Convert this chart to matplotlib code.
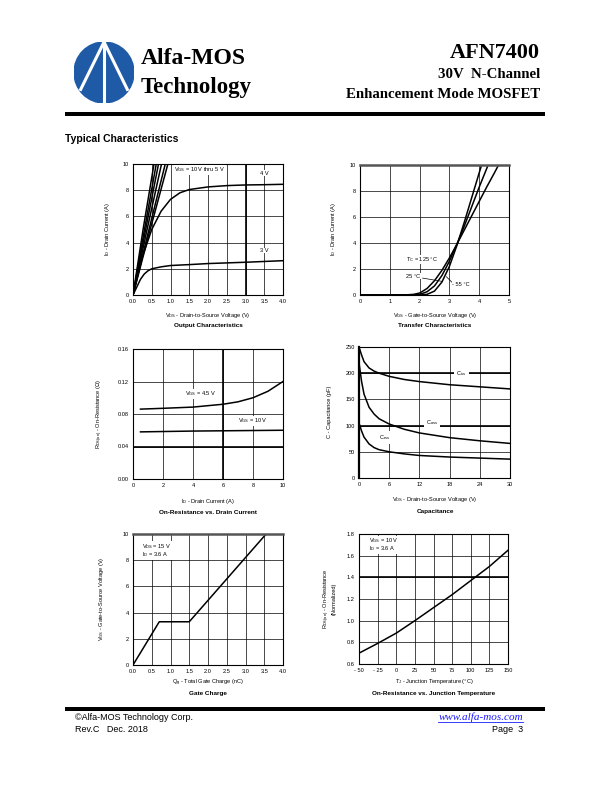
import matplotlib
matplotlib.use("Agg")
import matplotlib.pyplot as plt
from matplotlib.patches import Rectangle, Circle
from matplotlib.lines import Line2D

plt.rcParams['font.family'] = ['Liberation Sans', 'DejaVu Sans']
plt.rcParams['mathtext.fontset'] = 'custom'
plt.rcParams['mathtext.rm'] = 'Liberation Sans'
plt.rcParams['mathtext.it'] = 'Liberation Sans'

# Output Characteristics (VGS = 10 V ... 5 V, 4 V, 3 V)
out_vgs_hi_x = [[0, 0.28, 0.56], [0, 0.3, 0.62], [0, 0.33, 0.68],
                [0, 0.36, 0.76], [0, 0.4, 0.86], [0, 0.44, 0.93]]
out_vgs_hi_y = [[0, 5.2, 10], [0, 4.9, 10], [0, 4.9, 10],
                [0, 4.8, 10], [0, 4.7, 10], [0, 4.8, 10]]
out_4v_x = [0, 0.1, 0.25, 0.5, 0.75, 1.0, 1.25, 1.5, 2.0, 2.5, 3.0, 3.5, 4.0]
out_4v_y = [0, 1.2, 2.9, 5.0, 6.4, 7.3, 7.8, 8.05, 8.25, 8.35, 8.4, 8.42, 8.45]
out_3v_x = [0, 0.1, 0.2, 0.3, 0.4, 0.5, 0.75, 1.0, 1.5, 2.0, 3.0, 4.0]
out_3v_y = [0, 0.6, 1.2, 1.6, 1.85, 2.0, 2.15, 2.25, 2.32, 2.4, 2.5, 2.62]

# Transfer Characteristics
tr_125_x = [0, 1.5, 1.8, 2.0, 2.25, 2.5, 2.75, 3.0, 3.25, 3.5, 3.75, 4.0, 4.25, 4.5, 4.65]
tr_125_y = [0, 0, 0.05, 0.15, 0.5, 1.1, 1.9, 2.85, 3.9, 5.0, 6.1, 7.2, 8.3, 9.35, 10]
tr_25_x = [0, 1.8, 2.0, 2.25, 2.5, 2.75, 3.0, 3.25, 3.5, 3.75, 4.0, 4.3]
tr_25_y = [0, 0, 0.05, 0.25, 0.7, 1.5, 2.6, 3.9, 5.3, 6.8, 8.3, 10]
tr_m55_x = [0, 2.0, 2.25, 2.5, 2.75, 3.0, 3.25, 3.5, 3.75, 4.0, 4.08]
tr_m55_y = [0, 0, 0.05, 0.3, 1.0, 2.2, 3.8, 5.6, 7.5, 9.4, 10]

# On-Resistance vs. Drain Current
ron_id = [0.5, 2, 4, 6, 7, 8, 9, 10]
ron_45v = [0.086, 0.087, 0.0885, 0.092, 0.095, 0.1, 0.108, 0.12]
ron_10v_id = [0.5, 4, 10]
ron_10v = [0.058, 0.059, 0.060]

# Capacitance
cap_vds = [0, 0.5, 1, 2, 3, 4, 6, 9, 12, 18, 24, 30]
cap_ciss = [250, 235, 222, 210, 204, 200, 194, 188, 184, 178, 174, 170]
cap_coss = [220, 185, 160, 135, 122, 113, 103, 93, 86, 77, 71, 66]
cap_crss = [105, 90, 78, 65, 58, 54, 50, 46, 43, 40, 38, 36]

# Gate Charge
qg = [0, 0.7, 1.5, 3.55]
vgs_qg = [0, 3.3, 3.3, 10]

# On-Resistance vs. Junction Temperature
tj = [-50, -25, 0, 25, 50, 75, 100, 125, 150]
ron_norm = [0.70, 0.79, 0.885, 1.0, 1.12, 1.24, 1.37, 1.5, 1.65]

W, H = 612, 792
fig = plt.figure(figsize=(W / 100, H / 100), dpi=100)

def px_axes(x0, y0, x1, y1):
    return fig.add_axes([x0 / W, 1 - y1 / H, (x1 - x0) / W, (y1 - y0) / H])

def ftext(x, y, s, **kw):
    fig.text(x / W, 1 - y / H, s, **kw)

def regla(y, x0=65, x1=545, grosor=4):
    fig.add_artist(Rectangle((x0 / W, 1 - (y + grosor / 2) / H), (x1 - x0) / W, grosor / H,
                             transform=fig.transFigure, color='black', lw=0))

FS = 4.1
FT = 4.6
CURVA = 1.1
caja = dict(facecolor='white', edgecolor='none', pad=0.3)

def preparar(ax, xlim, ylim, xticks, yticks, xtl=None, ytl=None, gruesas_x=(), gruesas_y=()):
    ax.set_xlim(*xlim); ax.set_ylim(*ylim)
    ax.set_xticks(xticks); ax.set_yticks(yticks)
    if xtl is not None:
        ax.set_xticklabels(xtl)
    if ytl is not None:
        ax.set_yticklabels(ytl)
    ax.tick_params(length=0, labelsize=FS, pad=3)
    ax.grid(True, color='black', lw=0.5)
    ax.set_axisbelow(True)
    for s in ax.spines.values():
        s.set_linewidth(0.8)
    for gx in gruesas_x:
        ax.axvline(gx, color='black', lw=1.2, zorder=1)
    for gy in gruesas_y:
        ax.axhline(gy, color='black', lw=1.2, zorder=1)

# ---------------- encabezado ----------------
logo = px_axes(74, 42, 134, 103)
logo.set_xlim(-1, 1); logo.set_ylim(-1, 1); logo.axis('off')
logo.add_patch(Circle((0, 0), 1, color='#1f5aa6'))
for xe, ye in [(-0.8, -0.6), (0.8, -0.6), (0, -1)]:
    logo.plot([0, xe], [1, ye], color='white', lw=2.2, solid_capstyle='butt')

ftext(141, 59, "Alfa-MOS", family='Liberation Serif', weight='bold', fontsize=17, va='center')
ftext(141, 87, "Technology", family='Liberation Serif', weight='bold', fontsize=16.5, va='center')
ftext(540, 53, "AFN7400", family='Liberation Serif', weight='bold', fontsize=16, va='center', ha='right')
ftext(540, 75, "30V  N-Channel", family='Liberation Serif', weight='bold', fontsize=10.7, va='center', ha='right')
ftext(540, 95, "Enhancement Mode MOSFET", family='Liberation Serif', weight='bold', fontsize=10.7,
      va='center', ha='right')
regla(114)
ftext(65, 139, "Typical Characteristics", weight='bold', fontsize=7.5, va='center')

# ---------------- Output Characteristics ----------------
ax = px_axes(133, 164, 283, 295)
for xs, ys in zip(out_vgs_hi_x, out_vgs_hi_y):
    ax.plot(xs, ys, color='black', lw=CURVA)
ax.plot(out_4v_x, out_4v_y, color='black', lw=CURVA)
ax.plot(out_3v_x, out_3v_y, color='black', lw=CURVA)
preparar(ax, (0, 4), (0, 10), [0, 0.5, 1, 1.5, 2, 2.5, 3, 3.5, 4], [0, 2, 4, 6, 8, 10],
         xtl=['0.0', '0.5', '1.0', '1.5', '2.0', '2.5', '3.0', '3.5', '4.0'], gruesas_x=[3.0])
ax.text(1.1, 9.55, r"V$_{\mathrm{GS}}$ = 10 V thru 5 V", fontsize=FS, va='center', bbox=caja)
ax.text(3.4, 9.3, "4 V", fontsize=FS, va='center', bbox=caja)
ax.text(3.4, 3.4, "3 V", fontsize=FS, va='center', bbox=caja)
ftext(208, 316, r"V$_{\mathrm{DS}}$ - Drain-to-Source Voltage (V)", fontsize=FS, ha='center', va='center')
ftext(208, 326, "Output Characteristics", fontsize=FT, weight='bold', ha='center', va='center')
ftext(107, 229, r"I$_{\mathrm{D}}$ - Drain Current (A)", fontsize=FS, ha='center', va='center', rotation=90)

# ---------------- Transfer Characteristics ----------------
ax = px_axes(360, 165, 509, 295)
ax.plot(tr_125_x, tr_125_y, color='black', lw=CURVA)
ax.plot(tr_25_x, tr_25_y, color='black', lw=CURVA)
ax.plot(tr_m55_x, tr_m55_y, color='black', lw=CURVA)
preparar(ax, (0, 5), (0, 10), [0, 1, 2, 3, 4, 5], [0, 2, 4, 6, 8, 10])
ax.spines['top'].set_linewidth(1.8)
ax.spines['top'].set_color('#555555')
ax.text(1.56, 2.74, r"T$_{\mathrm{C}}$ = 125 °C", fontsize=FS, va='center', bbox=caja)
ax.text(1.55, 1.46, "25 °C", fontsize=FS, va='center', bbox=caja)
ax.plot([2.1, 2.75], [1.3, 1.05], color='black', lw=0.5)
ax.text(3.1, 0.77, "- 55 °C", fontsize=FS, va='center', bbox=caja)
ax.plot([3.1, 2.9], [0.95, 1.4], color='black', lw=0.5)
ftext(435, 316, r"V$_{\mathrm{GS}}$ - Gate-to-Source Voltage (V)", fontsize=FS, ha='center', va='center')
ftext(435, 326, "Transfer Characteristics", fontsize=FT, weight='bold', ha='center', va='center')
ftext(334, 229, r"I$_{\mathrm{D}}$ - Drain Current (A)", fontsize=FS, ha='center', va='center', rotation=90)

# ---------------- On-Resistance vs. Drain Current ----------------
ax = px_axes(133, 349, 283, 479)
ax.plot(ron_id, ron_45v, color='black', lw=CURVA)
ax.plot(ron_10v_id, ron_10v, color='black', lw=CURVA)
preparar(ax, (0, 10), (0, 0.16), [0, 2, 4, 6, 8, 10], [0, 0.04, 0.08, 0.12, 0.16],
         ytl=['0.00', '0.04', '0.08', '0.12', '0.16'], gruesas_x=[6], gruesas_y=[0.04])
ax.text(3.44, 0.105, r"V$_{\mathrm{GS}}$ = 4.5 V", fontsize=FS, va='center', bbox=caja)
ax.text(7.0, 0.0715, r"V$_{\mathrm{GS}}$ = 10 V", fontsize=FS, va='center', bbox=caja)
ftext(208, 502, r"I$_{\mathrm{D}}$ - Drain Current (A)", fontsize=FS, ha='center', va='center')
ftext(208, 513, "On-Resistance vs. Drain Current", fontsize=FT, weight='bold', ha='center', va='center')
ftext(100, 414, r"R$_{\mathrm{DS(on)}}$ - On-Resistance ($\Omega$)", fontsize=FS, ha='center',
      va='center', rotation=90)

# ---------------- Capacitance ----------------
ax = px_axes(359, 347, 510, 478)
ax.plot(cap_vds, cap_ciss, color='black', lw=CURVA)
ax.plot(cap_vds, cap_coss, color='black', lw=CURVA)
ax.plot(cap_vds, cap_crss, color='black', lw=CURVA)
preparar(ax, (0, 30), (0, 250), [0, 6, 12, 18, 24, 30], [0, 50, 100, 150, 200, 250],
         gruesas_y=[100, 200])
ax.spines['left'].set_linewidth(1.6)
ax.text(20.4, 200, r"C$_{\mathrm{iss}}$", fontsize=FS, va='center', ha='center',
        bbox=dict(facecolor='white', edgecolor='none', pad=1.5))
ax.text(14.5, 105, r"C$_{\mathrm{oss}}$", fontsize=FS, va='center', ha='center',
        bbox=dict(facecolor='white', edgecolor='none', pad=1.5))
ax.text(5.1, 78, r"C$_{\mathrm{rss}}$", fontsize=FS, va='center', ha='center',
        bbox=dict(facecolor='white', edgecolor='none', pad=1.5))
ftext(435, 500, r"V$_{\mathrm{DS}}$ - Drain-to-Source Voltage (V)", fontsize=FS, ha='center', va='center')
ftext(435, 512, "Capacitance", fontsize=FT, weight='bold', ha='center', va='center')
ftext(330, 412, "C - Capacitance (pF)", fontsize=FS, ha='center', va='center', rotation=90)

# ---------------- Gate Charge ----------------
ax = px_axes(133, 534, 283, 665)
ax.plot(qg, vgs_qg, color='black', lw=CURVA)
preparar(ax, (0, 4), (0, 10), [0, 0.5, 1, 1.5, 2, 2.5, 3, 3.5, 4], [0, 2, 4, 6, 8, 10],
         xtl=['0.0', '0.5', '1.0', '1.5', '2.0', '2.5', '3.0', '3.5', '4.0'])
ax.spines['top'].set_linewidth(1.8)
ax.spines['top'].set_color('#555555')
ax.text(0.25, 8.75, "V$_{\\mathrm{DS}}$ = 15 V\nI$_{\\mathrm{D}}$ = 3.6 A", fontsize=FS, va='center',
        linespacing=0.9, bbox=dict(facecolor='white', edgecolor='none', pad=0.5))
ftext(208, 683, r"Q$_{\mathrm{g}}$ - Total Gate Charge (nC)", fontsize=FS, ha='center', va='center')
ftext(208, 693, "Gate Charge", fontsize=FT, weight='bold', ha='center', va='center')
ftext(102, 599, r"V$_{\mathrm{GS}}$ - Gate-to-Source Voltage (V)", fontsize=FS, ha='center',
      va='center', rotation=90)

# ---------------- On-Resistance vs. Junction Temperature ----------------
ax = px_axes(359, 534, 508, 664)
ax.plot(tj, ron_norm, color='black', lw=CURVA)
preparar(ax, (-50, 150), (0.6, 1.8), [-50, -25, 0, 25, 50, 75, 100, 125, 150],
         [0.6, 0.8, 1.0, 1.2, 1.4, 1.6, 1.8],
         xtl=['- 50', '- 25', '0', '25', '50', '75', '100', '125', '150'], gruesas_y=[1.4])
ax.text(-37, 1.7, "V$_{\\mathrm{GS}}$ = 10 V\nI$_{\\mathrm{D}}$ = 3.6 A", fontsize=FS, va='center',
        linespacing=0.9, bbox=dict(facecolor='white', edgecolor='none', pad=0.5))
ftext(434, 682, r"T$_{\mathrm{J}}$ - Junction Temperature (°C)", fontsize=FS, ha='center', va='center')
ftext(434, 693, "On-Resistance vs. Junction Temperature", fontsize=FT, weight='bold',
      ha='center', va='center')
ftext(329, 599, "R$_{\\mathrm{DS(on)}}$ - On-Resistance\n(Normalized)", fontsize=FS, ha='center',
      va='center', rotation=90, linespacing=1.0)

# ---------------- pie de página ----------------
regla(709)
ftext(75, 717, "©Alfa-MOS Technology Corp.", fontsize=6.5, va='center')
ftext(75, 730, "Rev.C   Dec. 2018", fontsize=6.5, va='center')
ftext(523, 717, "www.alfa-mos.com", family='Liberation Serif', style='italic', fontsize=8,
      color='#1a1aff', ha='right', va='center')
fig.add_artist(Line2D([438 / W, 523 / W], [1 - 722 / H, 1 - 722 / H], transform=fig.transFigure,
                      color='#1a1aff', lw=0.6))
ftext(523, 730, "Page  3", fontsize=6.5, ha='right', va='center')

fig.savefig("out.png", dpi=100, facecolor='white')
